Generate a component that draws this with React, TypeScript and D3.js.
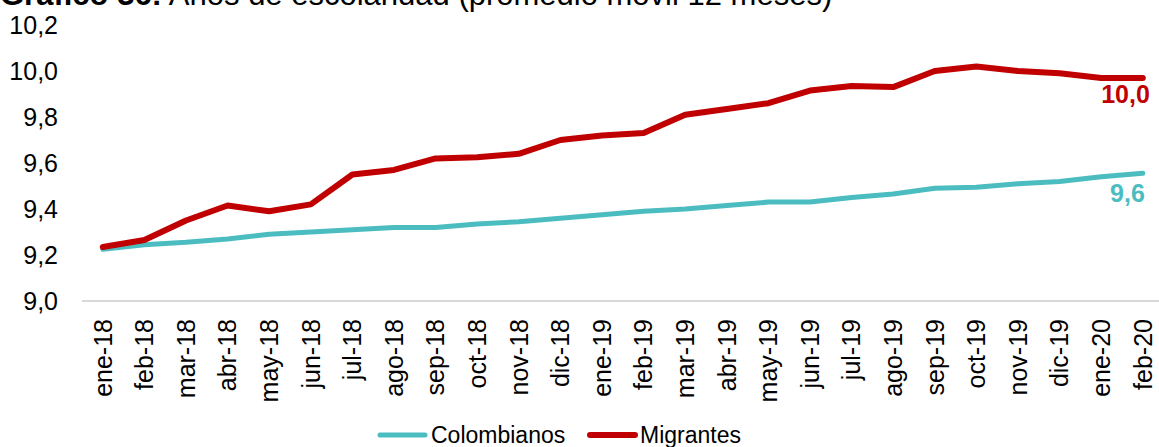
import React from 'react';
import * as d3 from 'd3';

const months = [
  'ene-18', 'feb-18', 'mar-18', 'abr-18', 'may-18', 'jun-18', 'jul-18', 'ago-18', 'sep-18',
  'oct-18', 'nov-18', 'dic-18', 'ene-19', 'feb-19', 'mar-19', 'abr-19', 'may-19', 'jun-19',
  'jul-19', 'ago-19', 'sep-19', 'oct-19', 'nov-19', 'dic-19', 'ene-20', 'feb-20',
];

const colombianos = [
  9.225, 9.245, 9.255, 9.27, 9.29, 9.3, 9.31, 9.32, 9.32, 9.335, 9.345, 9.36, 9.375,
  9.39, 9.4, 9.415, 9.43, 9.43, 9.45, 9.465, 9.49, 9.495, 9.51, 9.52, 9.54, 9.555,
];

const migrantes = [
  9.235, 9.265, 9.35, 9.415, 9.39, 9.42, 9.55, 9.57, 9.62, 9.625, 9.64, 9.7, 9.72,
  9.73, 9.81, 9.835, 9.86, 9.915, 9.935, 9.93, 10.0, 10.02, 10.0, 9.99, 9.97, 9.97,
];

const yTicks = [9.0, 9.2, 9.4, 9.6, 9.8, 10.0, 10.2];

const TEAL = '#4BBDC1';
const RED = '#C00000';
const FONT = 'Liberation Sans, Arial, sans-serif';

const fmt = (v: number) => v.toFixed(1).replace('.', ',');

const App: React.FC = () => {
  const width = 1159;
  const height = 447;

  const x = d3.scaleBand<string>().domain(months).range([82, 82 + 26 * 41.6]);
  const y = d3.scaleLinear().domain([9.0, 10.2]).range([301, 25]);
  const cx = (m: string) => (x(m) as number) + x.bandwidth() / 2;

  const line = d3.line<number>()
    .x((_, i) => cx(months[i]))
    .y((d) => y(d));

  const last = months[months.length - 1];

  return (
    <svg width={width} height={height} style={{ position: 'absolute', left: 0, top: 0 }} fontFamily={FONT}>
      <rect width={width} height={height} fill="white" />

      {/* titulo, recortado arriba como en la imagen */}
      <text x={0} y={5} fontSize={31} fill="#000">
        <tspan fontWeight="bold">Gráfico 36:</tspan>
        <tspan> Años de escolaridad (promedio móvil 12 meses)</tspan>
      </text>

      {yTicks.map((t) => (
        <text key={t} x={58} y={y(t)} dy="0.35em" textAnchor="end" fontSize={25} fill="#000">
          {fmt(t)}
        </text>
      ))}

      <line x1={82} x2={width} y1={y(9.0)} y2={y(9.0)} stroke="#D9D9D9" strokeWidth={2} />

      {months.map((m) => (
        <text
          key={m}
          transform={`translate(${cx(m)},${y(9.0) + 18}) rotate(-90)`}
          dy="0.35em"
          textAnchor="end"
          fontSize={25}
          fill="#000"
        >
          {m}
        </text>
      ))}

      <path d={line(colombianos) || ''} fill="none" stroke={TEAL} strokeWidth={5} strokeLinejoin="round" strokeLinecap="round" />
      <path d={line(migrantes) || ''} fill="none" stroke={RED} strokeWidth={6} strokeLinejoin="round" strokeLinecap="round" />

      <text x={cx(last) + 7} y={y(migrantes[migrantes.length - 1]) + 25} textAnchor="end" fontSize={25} fontWeight="bold" fill={RED}>
        {fmt(migrantes[migrantes.length - 1])}
      </text>
      <text x={cx(last) + 2} y={y(colombianos[colombianos.length - 1]) + 29} textAnchor="end" fontSize={25} fontWeight="bold" fill={TEAL}>
        {fmt(colombianos[colombianos.length - 1])}
      </text>

      {/* leyenda */}
      <g fontSize={23}>
        <line x1={380} x2={425} y1={435} y2={435} stroke={TEAL} strokeWidth={5} strokeLinecap="round" />
        <text x={431} y={443} fill="#000">Colombianos</text>
        <line x1={590} x2={635} y1={435} y2={435} stroke={RED} strokeWidth={6} strokeLinecap="round" />
        <text x={640} y={443} fill="#000">Migrantes</text>
      </g>
    </svg>
  );
};

export default App;
